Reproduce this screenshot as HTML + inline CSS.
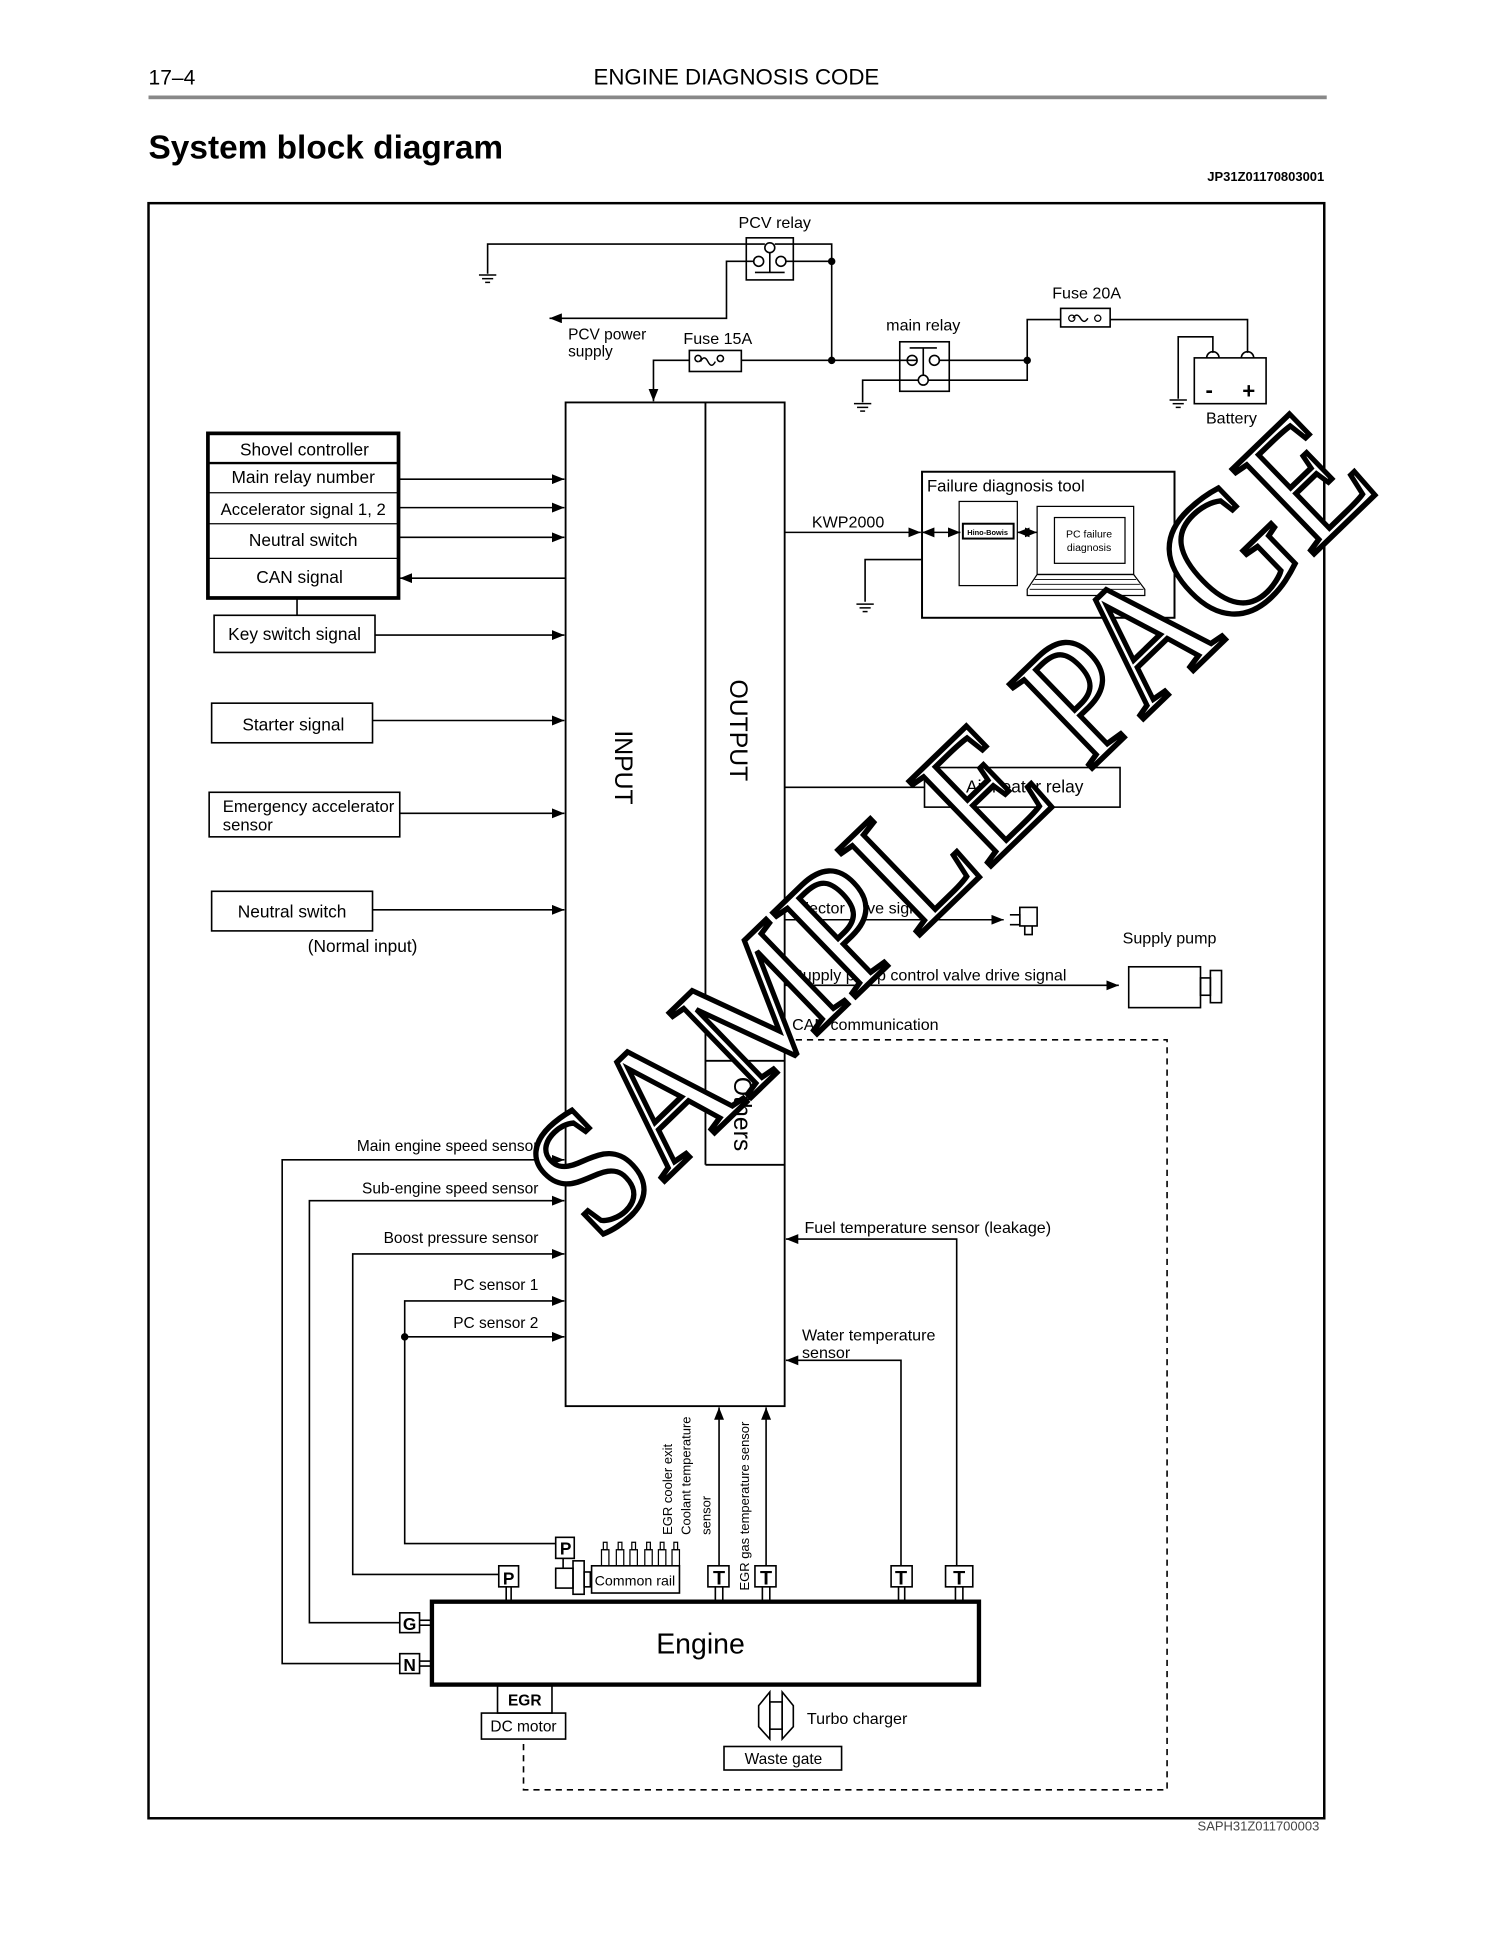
<!DOCTYPE html>
<html><head><meta charset="utf-8"><style>html,body{margin:0;padding:0;background:#fff}svg{display:block}</style></head>
<body>
<svg width="1500" height="1941" viewBox="0 0 1212 1568" xmlns="http://www.w3.org/2000/svg" font-family="Liberation Sans, sans-serif">
<defs>
<marker id="a" markerWidth="10" markerHeight="8" refX="10" refY="4" orient="auto" markerUnits="userSpaceOnUse"><path d="M0,0 L10,4 L0,8 z" fill="#000"/></marker>
<marker id="as" markerWidth="10" markerHeight="8" refX="0" refY="4" orient="auto" markerUnits="userSpaceOnUse"><path d="M10,0 L0,4 L10,8 z" fill="#000"/></marker>
<g id="gnd"><line x1="-7" y1="0" x2="7" y2="0" stroke="#000" stroke-width="1.2"/><line x1="-4.5" y1="3" x2="4.5" y2="3" stroke="#000" stroke-width="1.2"/><line x1="-2" y1="6" x2="2" y2="6" stroke="#000" stroke-width="1.2"/></g>
</defs>
<rect width="1212" height="1568" fill="#fff"/>
<text x="120" y="68" font-size="17">17–4</text>
<text x="595" y="68" font-size="18" text-anchor="middle">ENGINE DIAGNOSIS CODE</text>
<rect x="120" y="77" width="952" height="3" fill="#888"/>
<text x="120" y="128" font-size="27" font-weight="bold">System block diagram</text>
<text x="1070" y="146" font-size="10.5" font-weight="bold" text-anchor="end">JP31Z01170803001</text>
<rect x="120" y="164" width="950" height="1305" fill="none" stroke="#000" stroke-width="2"/>
<text x="1066" y="1479" font-size="10.5" fill="#444" text-anchor="end">SAPH31Z011700003</text>

<g fill="none" stroke="#000" stroke-width="1.3">
<rect x="603" y="192" width="38" height="34"/>
<circle cx="622" cy="200" r="4"/><circle cx="613" cy="211" r="4"/><circle cx="631" cy="211" r="4"/>
<line x1="622" y1="204" x2="622" y2="220"/><line x1="610" y1="220" x2="634" y2="220"/>
<polyline points="618,197 394,197 394,221"/>
<polyline points="609,211 587,211 587,257 444,257" marker-end="url(#a)"/>
<polyline points="626,197 672,197 672,291"/>
<line x1="635" y1="211" x2="672" y2="211"/>
<line x1="599" y1="291" x2="741" y2="291"/>
<polyline points="557,291 528,291 528,324" marker-end="url(#a)"/>
<rect x="557" y="283" width="42" height="17"/>
<rect x="727" y="276" width="40" height="40"/>
<circle cx="737" cy="291" r="4"/><circle cx="755" cy="291" r="4"/><circle cx="746" cy="307" r="4"/>
<line x1="746" y1="281" x2="746" y2="303"/><line x1="735" y1="281" x2="757" y2="281"/>
<line x1="759" y1="291" x2="830" y2="291"/>
<polyline points="742,307 697,307 697,325"/>
<polyline points="750,307 830,307 830,258 857,258"/>
<rect x="857" y="249" width="40" height="15"/>
<polyline points="897,258 1008,258 1008,285"/>
<polyline points="980,285 980,272 952,272 952,322"/>
<rect x="965" y="289" width="58" height="37"/>
<path d="M975,289 a5,5 0 0 1 10,0 M1003,289 a5,5 0 0 1 10,0"/>
</g>
<g fill="#000">
<circle cx="672" cy="211" r="3"/><circle cx="672" cy="291" r="3"/><circle cx="830" cy="291" r="3"/>
</g>
<path d="M566,292 q3,-6 6,0 t6,0 M582,292 a2.5,2.5 0 1 1 0.1,0 M564,292 a2.5,2.5 0 1 1 0.1,0" fill="none" stroke="#000" stroke-width="1.2"/>
<path d="M867,257 q3,-5 6,0 t6,0" fill="none" stroke="#000" stroke-width="1.2"/>
<circle cx="866" cy="257" r="2.5" fill="none" stroke="#000"/><circle cx="887" cy="257" r="2.5" fill="none" stroke="#000"/>
<use href="#gnd" x="394" y="222"/><use href="#gnd" x="697" y="326"/><use href="#gnd" x="952" y="323"/><use href="#gnd" x="699" y="488"/>
<g font-size="13" text-anchor="middle">
<text x="626" y="184">PCV relay</text>
<text x="580" y="278">Fuse 15A</text>
<text x="746" y="267">main relay</text>
<text x="878" y="241">Fuse 20A</text>
<text x="995" y="342">Battery</text>
<text x="977" y="321" font-size="18" font-weight="bold">-</text>
<text x="1009" y="322" font-size="18" font-weight="bold">+</text>
</g>
<text x="459" y="274" font-size="12.5">PCV power</text>
<text x="459" y="288" font-size="12.5">supply</text>

<g fill="none" stroke="#000" stroke-width="1.5">
<rect x="457" y="325" width="177" height="811"/>
<line x1="570" y1="325" x2="570" y2="941"/>
<line x1="570" y1="857" x2="634" y2="857"/>
<line x1="570" y1="941" x2="634" y2="941"/>
</g>
<text transform="translate(497,620) rotate(90)" font-size="20" text-anchor="middle">INPUT</text>
<text transform="translate(590,590) rotate(90)" font-size="20" text-anchor="middle">OUTPUT</text>
<text transform="translate(593,900) rotate(90)" font-size="20" text-anchor="middle">Others</text>

<g fill="none" stroke="#000" stroke-width="1.3">
<rect x="168" y="350" width="154" height="133" stroke-width="3"/>
<line x1="168" y1="374" x2="322" y2="374" stroke-width="2"/>
<line x1="168" y1="398" x2="322" y2="398" stroke-width="1"/>
<line x1="168" y1="423" x2="322" y2="423" stroke-width="1"/>
<line x1="168" y1="451" x2="322" y2="451" stroke-width="1"/>
<line x1="322" y1="387" x2="456" y2="387" marker-end="url(#a)"/>
<line x1="322" y1="410" x2="456" y2="410" marker-end="url(#a)"/>
<line x1="322" y1="434" x2="456" y2="434" marker-end="url(#a)"/>
<line x1="457" y1="467" x2="323" y2="467" marker-end="url(#a)"/>
<line x1="240" y1="483" x2="240" y2="497"/>
<rect x="173" y="497" width="130" height="30"/>
<line x1="303" y1="513" x2="456" y2="513" marker-end="url(#a)"/>
<rect x="171" y="568" width="130" height="32"/>
<line x1="301" y1="582" x2="456" y2="582" marker-end="url(#a)"/>
<rect x="169" y="640" width="154" height="36"/>
<line x1="323" y1="657" x2="456" y2="657" marker-end="url(#a)"/>
<rect x="171" y="720" width="130" height="32"/>
<line x1="301" y1="735" x2="456" y2="735" marker-end="url(#a)"/>
</g>
<g font-size="14" text-anchor="middle">
<text x="246" y="368">Shovel controller</text>
<text x="245" y="390">Main relay number</text>
<text x="245" y="416" font-size="13.5">Accelerator signal 1, 2</text>
<text x="245" y="441">Neutral switch</text>
<text x="242" y="471">CAN signal</text>
<text x="238" y="517">Key switch signal</text>
<text x="237" y="590">Starter signal</text>
<text x="236" y="741">Neutral switch</text>
<text x="293" y="769">(Normal input)</text>
</g>
<text x="180" y="656" font-size="13.5">Emergency accelerator</text>
<text x="180" y="671" font-size="13.5">sensor</text>

<g fill="none" stroke="#000" stroke-width="1.3">
<line x1="634" y1="430" x2="744" y2="430" marker-end="url(#a)"/>
<line x1="745" y1="430" x2="776" y2="430" marker-start="url(#as)" marker-end="url(#a)"/>
<line x1="822" y1="430" x2="838" y2="430" marker-start="url(#as)" marker-end="url(#a)"/>
<polyline points="745,452 699,452 699,486"/>
<rect x="745" y="381" width="204" height="118" stroke-width="1.6"/>
<rect x="775" y="405" width="47" height="68" stroke-width="1"/>
<rect x="778" y="423" width="41" height="12" stroke-width="1.6"/>
<rect x="838" y="409" width="78" height="55" stroke-width="1"/>
<rect x="852" y="418" width="57" height="37" stroke-width="1"/>
<path d="M838,464 L916,464 L925,476 L925,481 L830,481 L830,476 Z" stroke-width="1"/>
<path d="M836,468 L918,468 M834,472 L921,472 M832,476 L924,476" stroke-width="0.7"/>
<line x1="634" y1="636" x2="747" y2="636"/>
<rect x="747" y="620" width="158" height="32"/>
<line x1="634" y1="743" x2="811" y2="743" marker-end="url(#a)"/>
<rect x="824" y="733" width="14" height="15"/>
<path d="M816,739 L824,739 L824,747 L816,747 M828,748 L828,755 L834,755 L834,748"/>
<line x1="634" y1="796" x2="904" y2="796" marker-end="url(#a)"/>
<rect x="912" y="781" width="58" height="33"/>
<rect x="970" y="790" width="8" height="14"/>
<rect x="978" y="784" width="9" height="26"/>
<polyline points="634,840 943,840 943,1446 423,1446 423,1405" stroke-dasharray="5,4"/>
</g>
<text x="749" y="397" font-size="13.5">Failure diagnosis tool</text>
<text x="798" y="432" font-size="6" font-weight="bold" text-anchor="middle">Hino-Bowis</text>
<text x="880" y="434" font-size="8.5" text-anchor="middle">PC failure</text>
<text x="880" y="445" font-size="8.5" text-anchor="middle">diagnosis</text>
<g font-size="13">
<text x="656" y="426">KWP2000</text>
<text x="828" y="640" font-size="14" text-anchor="middle">Air heater relay</text>
<text x="640" y="738">Injector drive signal</text>
<text x="640" y="792">Supply pump control valve drive signal</text>
<text x="640" y="832">CAN communication</text>
<text x="945" y="762" text-anchor="middle">Supply pump</text>
<text x="650" y="996">Fuel temperature sensor (leakage)</text>
<text x="648" y="1083">Water temperature</text>
<text x="648" y="1097">sensor</text>
</g>

<g fill="none" stroke="#000" stroke-width="1.3">
<polyline points="323,1344 228,1344 228,937 456,937" marker-end="url(#a)"/>
<polyline points="323,1311 250,1311 250,970 456,970" marker-end="url(#a)"/>
<polyline points="403,1272 285,1272 285,1013 456,1013" marker-end="url(#a)"/>
<polyline points="327,1080 327,1051 456,1051" marker-end="url(#a)"/>
<polyline points="449,1247 327,1247 327,1080 456,1080" marker-end="url(#a)"/>
<polyline points="773,1265 773,1001 635,1001" marker-end="url(#a)"/>
<polyline points="728,1265 728,1099 635,1099" marker-end="url(#a)"/>
<line x1="581" y1="1265" x2="581" y2="1137" marker-end="url(#a)"/>
<line x1="619" y1="1265" x2="619" y2="1137" marker-end="url(#a)"/>
</g>
<circle cx="327" cy="1080" r="3" fill="#000"/>
<g font-size="12.5" text-anchor="end">
<text x="435" y="930">Main engine speed sensor</text>
<text x="435" y="964">Sub-engine speed sensor</text>
<text x="435" y="1004">Boost pressure sensor</text>
<text x="435" y="1042">PC sensor 1</text>
<text x="435" y="1073">PC sensor 2</text>
</g>
<g font-size="10.5">
<text transform="translate(543,1240) rotate(-90)">EGR cooler exit</text>
<text transform="translate(558,1240) rotate(-90)">Coolant temperature</text>
<text transform="translate(574,1240) rotate(-90)">sensor</text>
<text transform="translate(605,1285) rotate(-90)">EGR gas temperature sensor</text>
</g>

<g fill="none" stroke="#000" stroke-width="1.3">
<rect x="349" y="1294" width="442" height="67" stroke-width="3.5"/>
<rect x="572" y="1265" width="17" height="17"/><line x1="578" y1="1282" x2="578" y2="1293"/><line x1="584" y1="1282" x2="584" y2="1293"/>
<rect x="610" y="1265" width="17" height="17"/><line x1="616" y1="1282" x2="616" y2="1293"/><line x1="622" y1="1282" x2="622" y2="1293"/>
<rect x="720" y="1265" width="17" height="17"/><line x1="726" y1="1282" x2="726" y2="1293"/><line x1="731" y1="1282" x2="731" y2="1293"/>
<rect x="764" y="1265" width="22" height="17"/><line x1="772" y1="1282" x2="772" y2="1293"/><line x1="778" y1="1282" x2="778" y2="1293"/>
<rect x="403" y="1265" width="16" height="17"/><line x1="409" y1="1282" x2="409" y2="1293"/><line x1="413" y1="1282" x2="413" y2="1293"/>
<rect x="323" y="1303" width="16" height="16"/><line x1="339" y1="1309" x2="348" y2="1309"/><line x1="339" y1="1313" x2="348" y2="1313"/>
<rect x="323" y="1336" width="16" height="16"/><line x1="339" y1="1342" x2="348" y2="1342"/><line x1="339" y1="1346" x2="348" y2="1346"/>
<rect x="449" y="1242" width="15" height="17"/>
<rect x="449" y="1267" width="14" height="16"/><line x1="455" y1="1259" x2="455" y2="1267"/>
<rect x="463" y="1261" width="9" height="27"/>
<rect x="472" y="1270" width="5" height="12"/>
<rect x="478" y="1265" width="71" height="22"/>
<g stroke-width="1">
<rect x="486" y="1252" width="6" height="13"/><rect x="498" y="1252" width="6" height="13"/><rect x="509" y="1252" width="6" height="13"/><rect x="521" y="1252" width="6" height="13"/><rect x="532" y="1252" width="6" height="13"/><rect x="543" y="1252" width="6" height="13"/>
<rect x="487.5" y="1246" width="3" height="6"/><rect x="499.5" y="1246" width="3" height="6"/><rect x="510.5" y="1246" width="3" height="6"/><rect x="522.5" y="1246" width="3" height="6"/><rect x="533.5" y="1246" width="3" height="6"/><rect x="544.5" y="1246" width="3" height="6"/>
</g>
<rect x="402" y="1362" width="44" height="22"/>
<rect x="389" y="1384" width="68" height="21"/>
<path d="M622,1367 L613,1378 L613,1395 L622,1405 Z M632,1367 L641,1378 L641,1395 L632,1405 Z"/>
<rect x="622" y="1375" width="10" height="22"/>
<rect x="585" y="1411" width="95" height="19"/>
</g>
<g font-size="16" text-anchor="middle" font-weight="bold">
<text x="581" y="1280">T</text><text x="619" y="1280">T</text><text x="728" y="1280">T</text><text x="775" y="1280">T</text>
<text x="411" y="1280" font-size="14">P</text><text x="457" y="1256" font-size="14">P</text>
<text x="331" y="1317" font-size="14">G</text><text x="331" y="1350" font-size="14">N</text>
</g>
<text x="513" y="1281" font-size="11.5" text-anchor="middle">Common rail</text>
<text x="566" y="1336" font-size="23" text-anchor="middle">Engine</text>
<text x="424" y="1378" font-size="12.5" font-weight="bold" text-anchor="middle">EGR</text>
<text x="423" y="1399" font-size="12.5" text-anchor="middle">DC motor</text>
<text x="652" y="1393" font-size="13">Turbo charger</text>
<text x="633" y="1425" font-size="12.5" text-anchor="middle">Waste gate</text>

<text transform="translate(800,700) rotate(-44)" font-family="Liberation Serif, serif" font-size="145" text-anchor="middle" fill="#fff" stroke="#000" stroke-width="4.5" textLength="880" lengthAdjust="spacingAndGlyphs">SAMPLE PAGE</text>
</svg>
</body></html>
